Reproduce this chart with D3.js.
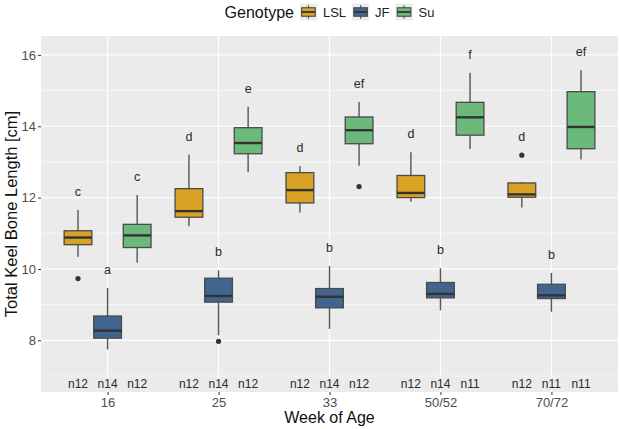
<!DOCTYPE html>
<html>
<head>
    <script src="https://d3js.org/d3.v7.min.js"></script>
    <style>
        body { margin: 0; background: #fff; }
        text { font-family: "Liberation Sans", Arial, sans-serif; }
    </style>
</head>
<body>
    <script>
        // categories
        const weeks = ["16", "25", "33", "50/52", "70/72"];
        const genotypes = ["LSL", "JF", "Su"];

        // box stats per week: [lower whisker, q1, median, q3, upper whisker]
        const lslStats = [
            [10.34, 10.68, 10.88, 11.07, 11.65],
            [11.20, 11.45, 11.62, 12.25, 13.21],
            [11.58, 11.85, 12.21, 12.70, 12.88],
            [11.88, 12.00, 12.13, 12.62, 13.27],
            [11.72, 12.01, 12.09, 12.41, 12.44]
        ];
        const jfStats = [
            [7.74, 8.06, 8.27, 8.68, 9.47],
            [8.14, 9.07, 9.24, 9.74, 9.96],
            [8.32, 8.91, 9.22, 9.45, 10.08],
            [8.84, 9.19, 9.30, 9.62, 10.02],
            [8.80, 9.17, 9.26, 9.57, 9.89]
        ];
        const suStats = [
            [10.17, 10.60, 10.94, 11.25, 12.07],
            [12.72, 13.23, 13.53, 13.96, 14.55],
            [12.89, 13.51, 13.89, 14.26, 14.68],
            [13.36, 13.75, 14.25, 14.67, 15.50],
            [13.07, 13.37, 13.98, 14.97, 15.57]
        ];

        // outliers per week
        const lslOutliers = [[9.73], [], [], [], [13.19]];
        const jfOutliers = [[], [7.97], [], [], []];
        const suOutliers = [[], [], [12.31], [], []];

        // significance letters
        const lslLetters = ["c", "d", "d", "d", "d"];
        const jfLetters = ["a", "b", "b", "b", "b"];
        const suLetters = ["c", "e", "ef", "f", "ef"];

        // sample sizes
        const lslN = ["n12", "n12", "n12", "n12", "n12"];
        const jfN = ["n14", "n14", "n14", "n14", "n11"];
        const suN = ["n12", "n12", "n12", "n11", "n11"];

        const yTicks = [8, 10, 12, 14, 16];
        const yMinor = [7, 9, 11, 13, 15];
        const nLabelY = 6.78;

        const colors = { LSL: "#DAA225", JF: "#41658F", Su: "#6BB97B" };

        const stats = { LSL: lslStats, JF: jfStats, Su: suStats };
        const outliers = { LSL: lslOutliers, JF: jfOutliers, Su: suOutliers };
        const letters = { LSL: lslLetters, JF: jfLetters, Su: suLetters };
        const nLabels = { LSL: lslN, JF: jfN, Su: suN };

        const rows = [];
        genotypes.forEach(g => {
            weeks.forEach((w, i) => {
                const s = stats[g][i];
                rows.push({
                    g, week: w,
                    lo: s[0], q1: s[1], med: s[2], q3: s[3], hi: s[4],
                    out: outliers[g][i],
                    letter: letters[g][i],
                    n: nLabels[g][i]
                });
            });
        });

        const width = 620, height = 429;
        const panel = { left: 41, right: 618, top: 36, bottom: 392 };

        const svg = d3.select("body").append("svg")
            .attr("width", width)
            .attr("height", height);

        const x = d3.scalePoint()
            .domain(weeks)
            .range([panel.left, panel.right])
            .padding(0.6);
        const step = x.step();

        const dodge = d3.scaleBand()
            .domain(genotypes)
            .range([-0.4 * step, 0.4 * step]);
        const boxW = 0.25 * step;

        const y = d3.scaleLinear()
            .domain([6.55, 16.53])
            .range([panel.bottom, panel.top]);

        // panel background
        svg.append("rect")
            .attr("x", panel.left).attr("y", panel.top)
            .attr("width", panel.right - panel.left)
            .attr("height", panel.bottom - panel.top)
            .attr("fill", "#EBEBEB");

        // grid
        svg.append("g").selectAll("line")
            .data(yMinor)
            .join("line")
            .attr("x1", panel.left).attr("x2", panel.right)
            .attr("y1", d => y(d)).attr("y2", d => y(d))
            .attr("stroke", "#fff").attr("stroke-width", 0.6);
        svg.append("g").selectAll("line")
            .data(yTicks)
            .join("line")
            .attr("x1", panel.left).attr("x2", panel.right)
            .attr("y1", d => y(d)).attr("y2", d => y(d))
            .attr("stroke", "#fff").attr("stroke-width", 1.2);
        svg.append("g").selectAll("line")
            .data(weeks)
            .join("line")
            .attr("x1", d => x(d)).attr("x2", d => x(d))
            .attr("y1", panel.top).attr("y2", panel.bottom)
            .attr("stroke", "#fff").attr("stroke-width", 1.2);

        // axes
        const yAxis = svg.append("g")
            .attr("transform", `translate(${panel.left},0)`)
            .call(d3.axisLeft(y).tickValues(yTicks).tickSize(3).tickPadding(2));
        const xAxis = svg.append("g")
            .attr("transform", `translate(0,${panel.bottom})`)
            .call(d3.axisBottom(x).tickSize(3).tickPadding(3));
        [yAxis, xAxis].forEach(a => {
            a.select(".domain").remove();
            a.selectAll(".tick line").attr("stroke", "#333");
            a.selectAll(".tick text")
                .attr("fill", "#4D4D4D")
                .style("font-size", "13px")
                .style("font-family", "'Liberation Sans', Arial, sans-serif");
        });

        // boxes
        const cx = d => x(d.week) + dodge(d.g) + dodge.bandwidth() / 2;
        const box = svg.append("g").selectAll("g")
            .data(rows)
            .join("g");

        box.append("line")
            .attr("x1", cx).attr("x2", cx)
            .attr("y1", d => y(d.q3)).attr("y2", d => y(d.hi))
            .attr("stroke", "#555").attr("stroke-width", 1.4);
        box.append("line")
            .attr("x1", cx).attr("x2", cx)
            .attr("y1", d => y(d.q1)).attr("y2", d => y(d.lo))
            .attr("stroke", "#555").attr("stroke-width", 1.4);
        box.append("rect")
            .attr("x", d => cx(d) - boxW / 2)
            .attr("y", d => y(d.q3))
            .attr("width", boxW)
            .attr("height", d => y(d.q1) - y(d.q3))
            .attr("fill", d => colors[d.g])
            .attr("stroke", "#4A4A4A").attr("stroke-width", 1.3);
        box.append("line")
            .attr("x1", d => cx(d) - boxW / 2).attr("x2", d => cx(d) + boxW / 2)
            .attr("y1", d => y(d.med)).attr("y2", d => y(d.med))
            .attr("stroke", "#333").attr("stroke-width", 2.4);
        box.selectAll("circle")
            .data(d => d.out.map(v => ({ v, d })))
            .join("circle")
            .attr("cx", o => cx(o.d))
            .attr("cy", o => y(o.v))
            .attr("r", 2.6)
            .attr("fill", "#333");

        // letters above the highest point
        box.append("text")
            .attr("x", cx)
            .attr("y", d => y(d3.max([d.hi, ...d.out]) + 0.39))
            .attr("text-anchor", "middle")
            .attr("fill", "#2a2a2a")
            .style("font-size", "12.5px")
            .text(d => d.letter);

        // sample sizes
        box.append("text")
            .attr("x", cx)
            .attr("y", y(nLabelY) + 4)
            .attr("text-anchor", "middle")
            .attr("fill", "#2a2a2a")
            .style("font-size", "12px")
            .text(d => d.n);

        // axis titles
        svg.append("text")
            .attr("x", (panel.left + panel.right) / 2)
            .attr("y", 423)
            .attr("text-anchor", "middle")
            .attr("fill", "#111")
            .style("font-size", "16px")
            .text("Week of Age");
        svg.append("text")
            .attr("transform", `translate(17,${(panel.top + panel.bottom) / 2}) rotate(-90)`)
            .attr("text-anchor", "middle")
            .attr("fill", "#111")
            .style("font-size", "16.5px")
            .text("Total Keel Bone Length [cm]");

        // legend
        const legend = svg.append("g");
        const title = legend.append("text")
            .attr("x", 0).attr("y", 18)
            .attr("fill", "#111")
            .style("font-size", "16px")
            .text("Genotype");
        let lx = title.node().getComputedTextLength() + 6;
        const k = 17;
        genotypes.forEach(g => {
            const kg = legend.append("g").attr("transform", `translate(${lx},3.5)`);
            kg.append("rect").attr("width", k).attr("height", k).attr("fill", "#EBEBEB");
            kg.append("line").attr("x1", k / 2).attr("x2", k / 2)
                .attr("y1", k * 0.1).attr("y2", k * 0.9)
                .attr("stroke", "#555").attr("stroke-width", 1.2);
            kg.append("rect")
                .attr("x", k * 0.1).attr("y", k * 0.25)
                .attr("width", k * 0.8).attr("height", k * 0.5)
                .attr("fill", colors[g])
                .attr("stroke", "#4A4A4A").attr("stroke-width", 1.1);
            kg.append("line").attr("x1", k * 0.1).attr("x2", k * 0.9)
                .attr("y1", k / 2).attr("y2", k / 2)
                .attr("stroke", "#333").attr("stroke-width", 1.8);
            const t = legend.append("text")
                .attr("x", lx + k + 6).attr("y", 17)
                .attr("fill", "#222")
                .style("font-size", "13px")
                .text(g);
            lx += k + 6 + t.node().getComputedTextLength() + 6;
        });
        const lw = lx - 6;
        legend.attr("transform", `translate(${(panel.left + panel.right) / 2 - lw / 2},0)`);
    </script>
</body>
</html>
